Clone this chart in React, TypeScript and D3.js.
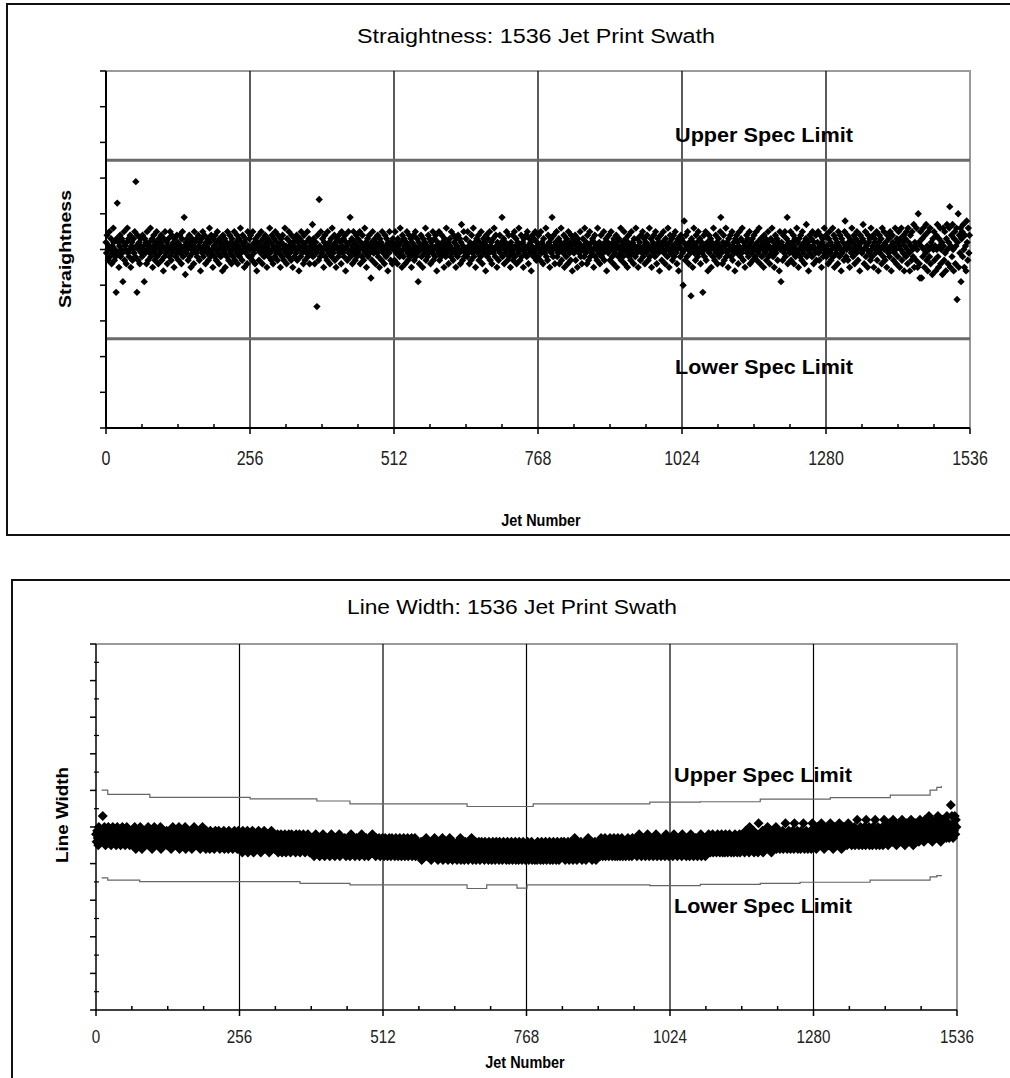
import React from "react";
import * as d3 from "d3";

const jetTicks = [0, 256, 512, 768, 1024, 1280, 1536];

// straightness spec limits (tenths of a unit)
const straightnessSpec = [25, -25];

// straightness per jet, tenths of a unit, 64 jets per row block
const straightness = [
  2,-1,4,0,-3,1,5,-2,0,3,-4,1,-1,6,2,-3,
  0,-2,-12,3,13,-1,2,-5,1,4,-2,0,3,-1,-9,2,
  5,-3,1,0,-4,2,6,-1,3,-2,0,4,-5,1,2,-3,
  0,3,-1,5,-2,19,1,-12,4,-3,0,2,-4,1,3,-1,
  -2,4,0,1,-9,3,-1,2,-4,5,0,-3,1,2,-1,6,
  -2,0,3,-5,1,4,-1,-3,2,0,5,-2,1,-4,3,0,
  -1,2,4,-3,0,1,-6,3,-2,5,0,-1,2,-4,1,3,
  0,-2,5,1,-3,4,-1,0,2,-5,3,1,-2,0,4,-1,
  2,-3,0,4,-1,1,-4,3,5,-2,0,9,1,-7,2,-1,
  3,0,-3,1,4,-2,2,-5,0,3,-1,1,-4,5,2,0,
  -1,3,-2,0,4,1,-3,2,-6,0,3,-1,5,-2,1,4,
  0,-4,2,1,-1,3,-3,0,6,2,-2,4,-1,0,-5,3,
  1,-2,4,0,-3,2,5,-1,0,-4,3,1,-2,2,0,-6,
  4,1,-1,3,-5,0,2,-2,5,1,-3,0,4,-1,2,-4,
  3,0,-2,1,5,-3,0,2,-1,4,-4,1,3,-2,0,6,
  -1,2,-3,4,0,1,-5,2,3,-1,0,-4,5,1,-2,3,
  0,4,-2,1,-3,5,0,-1,2,-4,3,1,-6,2,0,4,
  -3,1,2,-1,5,0,-4,3,1,-2,0,4,-1,2,-5,1,
  3,-2,0,6,-1,2,-3,4,0,-4,1,3,-2,5,0,-1,
  2,-3,4,1,-1,0,-5,3,2,-2,4,0,-3,1,6,-1,
  1,-4,3,0,-2,5,1,-1,2,-3,4,0,-5,2,1,-2,
  3,0,-1,4,-3,2,0,-6,1,3,-2,5,0,-1,2,-4,
  4,1,-3,0,2,-1,5,-2,0,3,-4,1,2,-1,0,7,
  -2,3,1,-4,0,2,-1,-16,4,0,-3,14,1,-2,5,0,
  -1,3,0,-5,2,4,-2,1,0,-3,5,1,-1,2,-4,0,
  3,-2,6,1,-1,0,4,-3,2,-5,1,3,0,-2,4,-1,
  0,2,-4,5,1,-1,3,-2,0,4,-6,2,1,-3,0,5,
  -1,2,9,-2,0,3,-4,1,5,-1,2,-3,0,4,-2,1,
  3,-1,0,5,-4,2,1,-2,4,0,-3,1,6,-1,2,-5,
  0,3,-2,1,4,-1,0,-8,2,-3,5,1,-1,0,3,-4,
  2,0,-1,4,-2,1,-5,3,0,2,-3,5,1,-1,0,-4,
  4,1,-2,3,0,-6,2,-1,5,0,-3,1,2,-4,3,0,
  1,-3,5,0,-1,2,-4,3,1,0,-2,6,-1,2,-5,4,
  0,-2,3,1,-4,0,2,5,-1,-3,1,4,0,-2,3,-5,
  2,0,-1,4,-3,1,5,-2,0,3,-1,-9,2,-4,1,0,
  4,-2,1,-5,3,0,-1,2,6,-3,0,1,-2,4,-1,3,
  0,-4,2,1,-1,5,-3,0,3,-2,4,1,-6,0,2,-1,
  5,-3,1,0,-2,4,2,-1,0,-5,3,1,-2,6,0,-1,
  2,-4,0,3,1,-2,5,-1,0,-3,4,2,-1,0,-5,3,
  1,-2,4,0,-1,3,-4,2,7,0,-3,1,5,-2,0,-1,
  3,0,-2,5,-1,1,-4,2,0,-3,4,1,-1,6,-2,0,
  2,-5,1,3,0,-1,4,-3,2,0,-2,5,1,-4,0,3,
  -1,2,0,-6,4,1,-2,3,0,-1,5,-3,1,2,-4,0,
  3,-1,6,0,-2,4,1,-5,2,0,-3,1,4,-1,0,2,
  9,-2,1,3,-4,0,2,-1,5,0,-3,1,4,-2,0,-5,
  2,1,-1,4,-3,0,5,-2,1,3,-4,0,2,-1,6,0,
  -3,1,4,-2,0,2,-5,3,1,-1,0,4,-2,5,1,-4,
  0,3,-1,2,-6,1,4,0,-2,3,-1,5,0,-3,2,1,
  -2,4,0,1,-3,5,-1,2,0,-4,3,1,-1,0,6,-2,
  1,-3,4,0,2,-5,1,3,-1,9,0,-2,4,1,-4,2,
  0,5,-2,1,-1,3,-4,0,2,6,-3,1,0,-1,4,-5,
  2,0,-2,3,1,-4,5,0,-1,2,-3,4,1,-6,0,3,
  -1,2,4,-3,0,1,-5,3,2,-1,0,5,-2,1,-4,0,
  3,1,-2,6,0,-1,2,-4,4,0,-3,1,5,-2,0,2,
  -1,3,0,-5,2,4,-2,1,0,-3,6,1,-1,2,-4,0,
  4,-2,1,0,-1,5,-3,2,0,3,-6,1,2,-1,4,0,
  -3,1,5,0,-2,2,-4,3,1,-1,0,4,-5,2,1,-2,
  3,0,-1,6,-3,1,2,-2,0,5,-4,1,3,-1,0,-5,
  2,4,-2,0,1,-3,5,-1,2,0,-4,3,1,-2,6,0,
  -1,3,-5,1,0,2,-3,4,0,-1,5,-2,1,3,-4,0,
  2,-1,4,0,-3,1,6,-2,0,3,-5,1,2,-1,4,0,
  -2,5,1,-4,0,3,-1,2,-6,0,4,1,-3,2,0,5,
  -1,2,-4,3,0,1,-2,6,0,-5,2,4,-1,0,3,-3,
  1,4,-2,0,5,-1,2,-4,0,3,-6,1,2,-2,4,0,
  3,-1,-10,2,8,0,-3,4,1,-2,5,0,-4,2,1,-1,
  -13,3,0,-5,2,6,-1,1,-3,4,0,2,-2,5,-1,0,
  3,-4,1,2,-1,-12,0,4,-2,1,5,-3,0,2,-6,1,
  4,-1,0,3,-5,2,1,-2,6,0,-3,1,4,-1,2,-4,
  0,3,-2,1,5,9,-1,0,-4,2,4,-3,1,0,6,-2,
  2,-1,-5,3,0,1,4,-2,0,5,-3,1,2,-1,-6,3,
  0,4,-1,2,-4,1,5,0,-2,3,-1,6,0,-3,2,1,
  -5,2,0,4,-1,3,-2,1,5,-4,0,2,-1,3,-3,0,
  4,1,-2,0,5,-3,2,1,-1,6,0,-4,3,1,-2,2,
  0,-5,4,1,-1,3,-3,0,2,5,-2,1,-4,0,3,-1,
  6,0,-2,2,-5,1,4,-1,0,3,-3,2,1,-6,5,0,
  -9,2,1,-3,4,0,-1,5,-2,1,3,9,-4,0,2,-1,
  1,5,-3,0,2,-1,4,-4,1,3,-2,0,6,-1,2,-5,
  3,0,-2,4,1,-3,5,0,-1,2,-4,1,3,7,-2,0,
  2,-6,1,4,-1,0,3,-2,5,1,-4,2,0,-1,4,-3,
  0,2,5,-1,-3,1,4,0,-5,2,3,-2,1,6,-1,0,
  4,-2,1,0,-4,3,5,-1,2,-3,0,1,6,-2,4,-5,
  1,3,-1,0,2,-4,5,1,-2,4,0,-6,3,-1,2,0,
  -3,5,8,1,-2,0,4,-3,2,1,-5,3,0,-1,6,2,
  -2,0,4,-4,1,3,-1,5,0,-3,2,1,-6,4,0,2,
  -1,3,7,0,-4,2,5,-2,1,0,-5,4,2,-1,3,-3,
  6,0,-2,1,4,-5,2,3,-1,0,5,-3,1,-6,2,4,
  -1,0,3,-4,6,1,-2,5,0,-3,2,1,-5,4,0,-1,
  3,-2,5,1,-6,0,4,2,-3,1,-1,6,0,-4,3,2,
  -2,5,1,-5,3,0,6,-3,2,-1,4,-6,1,3,-2,5,
  0,-4,6,2,-1,-6,4,1,-3,5,0,-2,7,-5,2,1,
  -3,6,0,-5,10,2,-4,-8,5,1,-8,3,-2,6,0,-5,
  4,-1,7,-3,1,-6,5,0,-2,6,-4,2,1,-7,3,0,
  5,-3,1,-6,4,0,7,-2,-5,3,1,6,-4,0,2,-7,
  6,1,-3,5,-1,-6,3,7,0,-4,2,6,12,-5,1,4,
  -2,7,0,-6,3,5,-4,1,6,-14,2,10,-5,4,-1,6,
  -9,3,5,-2,7,0,-5,4,1,-6,8,2,-3,6,-1,4,
];

// line width per jet, tenths of a unit
const lineWidth = [
  48,46,49,47,45,50,48,47,46,49,48,47,53,46,48,50,
  47,45,48,49,46,47,50,48,46,47,49,45,48,47,50,46,
  48,49,46,47,45,48,50,47,46,48,49,47,45,48,47,50,
  46,48,47,49,45,47,48,50,46,47,49,48,45,47,48,46,
  47,49,45,48,46,50,47,44,48,46,49,47,45,48,47,50,
  46,48,44,47,49,46,48,47,45,49,47,46,48,50,45,47,
  48,46,49,47,44,48,46,47,50,45,48,47,46,49,47,45,
  48,46,47,50,44,47,48,46,49,45,47,48,46,47,49,45,
  46,48,47,45,49,47,44,48,46,50,47,45,48,46,49,47,
  45,48,47,46,50,44,48,47,46,49,45,47,48,46,47,50,
  44,47,49,46,48,45,47,48,46,49,47,44,48,47,46,50,
  45,48,46,47,49,45,48,46,47,49,44,47,48,46,50,47,
  47,45,48,46,44,49,47,45,48,46,47,44,49,46,48,45,
  47,46,48,44,47,49,45,46,48,47,45,49,46,44,48,47,
  46,48,45,47,49,44,46,48,47,45,48,46,44,49,47,46,
  45,48,47,46,44,48,46,49,45,47,46,48,44,47,49,46,
  46,44,48,45,47,43,49,46,45,47,44,48,46,45,49,43,
  47,45,46,48,44,47,45,49,46,43,48,46,45,47,44,48,
  46,45,49,44,47,46,43,48,45,47,46,44,49,45,47,46,
  44,48,45,46,47,43,48,46,45,49,44,47,46,45,48,44,
  45,47,44,46,48,43,46,45,47,44,48,45,43,46,47,45,
  44,48,46,43,47,45,46,44,48,45,47,43,46,48,44,45,
  47,44,46,45,43,48,45,47,44,46,45,48,43,46,47,44,
  46,45,48,44,47,43,46,45,47,44,48,45,46,43,47,45,
  44,46,43,47,45,42,46,44,48,45,43,46,44,47,45,42,
  46,44,47,43,45,48,44,46,42,45,47,44,46,43,45,47,
  44,42,46,45,48,43,45,44,47,46,42,45,44,47,43,46,
  45,44,48,42,46,45,43,47,44,46,45,43,47,44,42,46,
  45,43,47,44,46,42,45,48,44,46,43,45,47,44,42,46,
  45,47,43,44,46,45,42,47,44,45,48,43,46,44,45,42,
  46,44,47,43,45,46,42,44,47,45,43,46,44,48,45,43,
  44,46,45,42,47,44,46,43,45,47,44,42,46,45,43,47,
  44,46,42,45,47,43,44,46,42,45,43,47,44,46,42,45,
  47,43,44,46,45,42,44,47,43,45,46,42,44,45,47,43,
  45,42,46,44,43,47,45,42,44,46,43,45,47,42,44,46,
  43,45,44,47,42,46,44,43,45,47,42,44,46,43,45,44,
  43,45,42,44,46,41,45,43,44,46,42,45,43,47,44,42,
  45,43,46,42,44,45,41,46,43,44,42,45,47,43,44,42,
  46,44,41,45,43,46,44,42,45,43,47,41,44,46,43,45,
  42,44,46,43,41,45,44,47,42,43,45,44,41,46,43,44,
  44,42,45,43,41,46,44,42,45,43,47,41,44,46,42,43,
  45,41,44,46,43,42,45,44,41,46,43,45,42,44,47,43,
  41,45,43,44,42,46,41,44,45,43,42,46,44,41,45,43,
  46,42,44,43,45,41,46,43,44,42,45,43,41,46,44,42,
  43,45,41,44,46,42,43,45,41,44,46,43,42,45,44,41,
  46,43,44,42,45,41,43,46,44,42,43,45,41,44,46,42,
  44,41,45,43,42,46,44,41,43,45,42,44,46,41,43,45,
  42,44,41,46,43,45,42,44,41,43,46,42,44,45,41,43,
  44,42,46,43,41,45,44,42,43,46,41,44,45,42,43,41,
  45,43,44,41,46,42,44,43,45,41,43,46,42,44,41,45,
  43,42,46,44,41,43,45,42,44,46,41,43,44,42,45,41,
  46,43,42,44,45,41,43,46,42,44,41,45,43,42,46,44,
  43,45,42,46,44,41,45,43,44,42,46,43,41,45,44,42,
  46,43,45,41,44,42,47,43,45,44,41,46,42,44,43,45,
  42,46,44,41,43,45,42,44,46,43,41,45,44,42,47,43,
  44,42,45,43,46,41,44,45,42,43,46,44,41,45,43,44,
  45,43,46,42,44,47,43,45,42,46,44,43,47,42,45,44,
  43,46,44,42,45,47,43,44,46,42,45,43,47,44,42,46,
  44,45,42,47,43,44,46,42,45,43,47,44,42,46,45,43,
  46,42,44,45,43,47,44,42,46,43,45,44,42,47,43,45,
  44,46,43,47,45,42,46,44,45,48,43,46,44,42,47,45,
  43,46,44,47,42,45,46,43,48,44,45,42,46,47,43,45,
  46,44,42,47,45,43,46,48,44,42,45,46,43,47,44,45,
  42,46,45,43,47,44,46,42,45,48,43,44,46,45,42,47,
  45,43,47,44,46,42,45,48,44,46,43,45,47,42,46,44,
  45,47,43,46,44,42,48,45,43,46,44,47,45,42,46,43,
  47,44,45,42,46,48,43,45,44,47,42,46,45,43,47,44,
  46,42,45,47,43,44,46,48,42,45,44,47,43,46,45,42,
  46,44,47,43,45,48,44,46,43,47,45,44,48,43,46,45,
  44,47,45,43,46,48,44,45,47,43,46,44,48,45,43,47,
  45,46,43,48,44,47,45,43,46,44,48,45,47,43,46,44,
  47,45,43,46,48,44,45,47,43,46,45,44,48,43,47,46,
  46,44,48,45,47,43,46,49,44,47,45,48,46,43,50,45,
  47,44,48,46,45,49,43,47,46,44,48,45,47,43,51,46,
  45,48,44,47,46,49,43,45,48,46,44,47,45,49,50,46,
  44,48,46,45,47,43,49,46,48,44,45,47,46,50,44,48,
  47,45,49,46,44,48,46,47,45,49,44,47,48,46,51,45,
  47,44,48,46,49,45,47,44,48,46,45,49,47,44,51,46,
  48,45,47,49,44,46,48,45,47,44,49,46,48,45,51,47,
  44,48,46,49,45,47,44,48,46,47,45,49,44,48,51,46,
  47,45,49,46,48,44,47,50,46,48,45,47,49,46,51,45,
  48,46,50,44,47,49,45,48,46,47,50,45,48,46,51,47,
  45,49,47,44,48,46,50,47,45,48,46,49,47,45,51,48,
  46,49,44,47,48,46,50,45,47,49,46,48,45,47,51,46,
  48,46,50,47,45,49,47,48,46,50,45,48,47,49,52,46,
  48,45,49,47,50,46,48,45,49,47,46,50,48,45,52,47,
  49,46,48,50,45,47,49,46,48,45,50,47,49,46,52,48,
  45,49,47,50,46,48,45,49,47,48,46,50,45,48,52,47,
  48,46,50,47,49,45,48,51,46,49,47,48,50,46,52,47,
  49,46,51,48,45,50,47,49,46,48,51,47,49,46,52,48,
  46,50,48,45,49,47,51,48,46,49,47,50,48,46,52,49,
  47,50,45,48,49,47,51,46,48,50,47,49,46,48,52,47,
  49,47,51,48,50,46,49,52,47,50,48,49,51,47,53,48,
  50,47,52,49,46,51,48,50,47,49,52,48,50,47,53,49,
  47,51,49,46,50,48,52,49,47,50,48,51,49,47,53,50,
  48,51,47,50,49,56,48,53,50,47,51,49,53,48,52,50,
];

// line width spec limits, read as steps along the swath
const upperSpecJets = [10, 21, 96, 275, 394, 453, 662, 780, 988, 1078, 1185, 1310, 1417, 1488, 1500, 1508];
const upperSpecValues = [60.1, 58.9, 58.1, 57.7, 57.1, 56.3, 55.6, 56.3, 56.8, 56.9, 57.6, 58.0, 58.7, 60.1, 60.8, 61.2];
const lowerSpecJets = [10, 21, 78, 364, 453, 662, 697, 751, 769, 988, 1078, 1185, 1256, 1381, 1488, 1500, 1508];
const lowerSpecValues = [36.1, 35.5, 35.1, 34.6, 34.2, 33.2, 34.2, 33.3, 34.2, 34.0, 34.3, 34.6, 34.9, 35.5, 36.4, 36.7, 36.9];

const ARIAL = "'Liberation Sans', Arial, Helvetica, sans-serif";

const diamond = (r: number) => `M0,${-r}L${r},0L0,${r}L${-r},0Z`;

type Box = { left: number; right: number; top: number; bottom: number };

function SwathChart(props: any) {
  const { box, yDomain, yTicks, yMinor, values, r, axisW, gridW } = props;
  const x = d3.scaleLinear().domain([0, 1536]).range([box.left, box.right]);
  const y = d3.scaleLinear().domain(yDomain).range([box.bottom, box.top]);
  const minorX = d3.range(64, 1536, 64).filter((v) => v % 256 !== 0);
  const dia = diamond(r);

  return (
    <g>
      <text
        x={props.title.x}
        y={props.title.y}
        fontFamily={ARIAL}
        fontSize={20}
        textLength={props.title.len}
        lengthAdjust="spacingAndGlyphs"
      >
        {props.title.text}
      </text>

      {/* plot area top / right border */}
      <path
        d={`M${box.left},${box.top}H${box.right}V${box.bottom}`}
        fill="none"
        stroke="#9a9a9a"
        strokeWidth={2}
      />

      {/* vertical gridlines */}
      {jetTicks.slice(1, -1).map((t) => (
        <line key={t} x1={x(t)} x2={x(t)} y1={box.top} y2={box.bottom} stroke="#000" strokeWidth={gridW} />
      ))}

      {props.spec(x, y)}

      {/* data points */}
      <g fill="#000">
        {values.map((v: number, i: number) => (
          <path key={i} d={dia} transform={`translate(${x(i).toFixed(2)},${y(v).toFixed(2)})`} />
        ))}
      </g>

      {/* axes */}
      <line x1={box.left} x2={box.left} y1={box.top} y2={box.bottom + axisW / 2} stroke="#000" strokeWidth={axisW} />
      <line x1={box.left} x2={box.right} y1={box.bottom} y2={box.bottom} stroke="#000" strokeWidth={axisW} />
      {yTicks.map((t: number) => (
        <line key={t} x1={box.left - 6} x2={box.left} y1={y(t)} y2={y(t)} stroke="#000" strokeWidth={1.5} />
      ))}
      {yMinor.map((t: number) => (
        <line key={t} x1={box.left - 2} x2={box.left + 3} y1={y(t)} y2={y(t)} stroke="#000" strokeWidth={1.2} />
      ))}
      {jetTicks.map((t) => (
        <line key={t} x1={x(t)} x2={x(t)} y1={box.bottom} y2={box.bottom + 6} stroke="#000" strokeWidth={1.5} />
      ))}
      {minorX.map((t) => (
        <line key={t} x1={x(t)} x2={x(t)} y1={box.bottom - 4} y2={box.bottom} stroke="#000" strokeWidth={1.5} />
      ))}
      {/* condensed tick labels (no narrow font installed, so squeeze horizontally) */}
      {jetTicks.map((t) => (
        <text
          key={t}
          transform={`translate(${x(t)},${props.tickY}) scale(0.8,1)`}
          textAnchor="middle"
          fontFamily={ARIAL}
          fontSize={props.tickSize}
          fill="#222"
        >
          {t}
        </text>
      ))}

      {/* spec labels */}
      {props.specLabels.map((s: any) => (
        <text
          key={s.text}
          x={s.x}
          y={s.y}
          fontFamily={ARIAL}
          fontWeight="bold"
          fontSize={20}
          textLength={178}
          lengthAdjust="spacingAndGlyphs"
        >
          {s.text}
        </text>
      ))}

      {/* axis titles */}
      <text
        transform={`translate(${props.yLabel.x},${props.yLabel.y}) rotate(-90)`}
        textAnchor="middle"
        fontFamily={ARIAL}
        fontWeight="bold"
        fontSize={16}
        textLength={props.yLabel.len}
        lengthAdjust="spacingAndGlyphs"
      >
        {props.yLabel.text}
      </text>
      <text
        transform={`translate(${props.xLabel.x},${props.xLabel.y}) scale(0.85,1)`}
        textAnchor="middle"
        fontFamily={ARIAL}
        fontWeight="bold"
        fontSize={17}
      >
        Jet Number
      </text>
    </g>
  );
}

export default function App() {
  const box1: Box = { left: 106, right: 970, top: 71, bottom: 428 };
  const box2: Box = { left: 96, right: 957, top: 644, bottom: 1010 };

  const stepLine = d3
    .line<[number, number]>()
    .curve(d3.curveStepAfter);

  return (
    <div style={{ position: "absolute", left: 0, top: 0 }}>
      <svg width={1010} height={1078} style={{ display: "block", background: "#fff" }}>
        <rect x={0} y={0} width={1010} height={1078} fill="#fff" />

        {/* chart frames */}
        <rect x={7} y={4} width={1012} height={531} fill="none" stroke="#111" strokeWidth={2} />
        <rect x={12} y={580} width={1012} height={520} fill="none" stroke="#111" strokeWidth={2} />

        <SwathChart
          box={box1}
          yDomain={[-50, 50]}
          yTicks={d3.range(-50, 51, 10)}
          yMinor={[]}
          values={straightness}
          r={3.7}
          axisW={2}
          gridW={1.3}
          title={{ text: "Straightness: 1536 Jet Print Swath", x: 357, y: 43, len: 358 }}
          tickY={465}
          tickSize={20}
          yLabel={{ text: "Straightness", x: 71, y: 249, len: 118 }}
          xLabel={{ x: 541, y: 526 }}
          specLabels={[
            { text: "Upper Spec Limit", x: 675, y: 142 },
            { text: "Lower Spec Limit", x: 675, y: 374 },
          ]}
          spec={(x: any, y: any) =>
            straightnessSpec.map((v) => (
              <line key={v} x1={x(0)} x2={x(1536)} y1={y(v)} y2={y(v)} stroke="#6a6a6a" strokeWidth={3} />
            ))
          }
        />

        <SwathChart
          box={box2}
          yDomain={[0, 100]}
          yTicks={d3.range(0, 101, 10)}
          yMinor={d3.range(5, 100, 10)}
          values={lineWidth}
          r={5}
          axisW={1.5}
          gridW={1.2}
          title={{ text: "Line Width: 1536 Jet Print Swath", x: 347, y: 614, len: 330 }}
          tickY={1043}
          tickSize={19}
          yLabel={{ text: "Line Width", x: 68, y: 815, len: 96 }}
          xLabel={{ x: 525, y: 1068 }}
          specLabels={[
            { text: "Upper Spec Limit", x: 674, y: 782 },
            { text: "Lower Spec Limit", x: 674, y: 913 },
          ]}
          spec={(x: any, y: any) => (
            <g fill="none" stroke="#666" strokeWidth={1.2}>
              <path
                d={
                  stepLine.x((d) => x(d[0])).y((d) => y(d[1]))(
                    upperSpecJets.map((j, i) => [j, upperSpecValues[i]] as [number, number])
                  ) || ""
                }
              />
              <path
                d={
                  stepLine.x((d) => x(d[0])).y((d) => y(d[1]))(
                    lowerSpecJets.map((j, i) => [j, lowerSpecValues[i]] as [number, number])
                  ) || ""
                }
              />
            </g>
          )}
        />
      </svg>
    </div>
  );
}
